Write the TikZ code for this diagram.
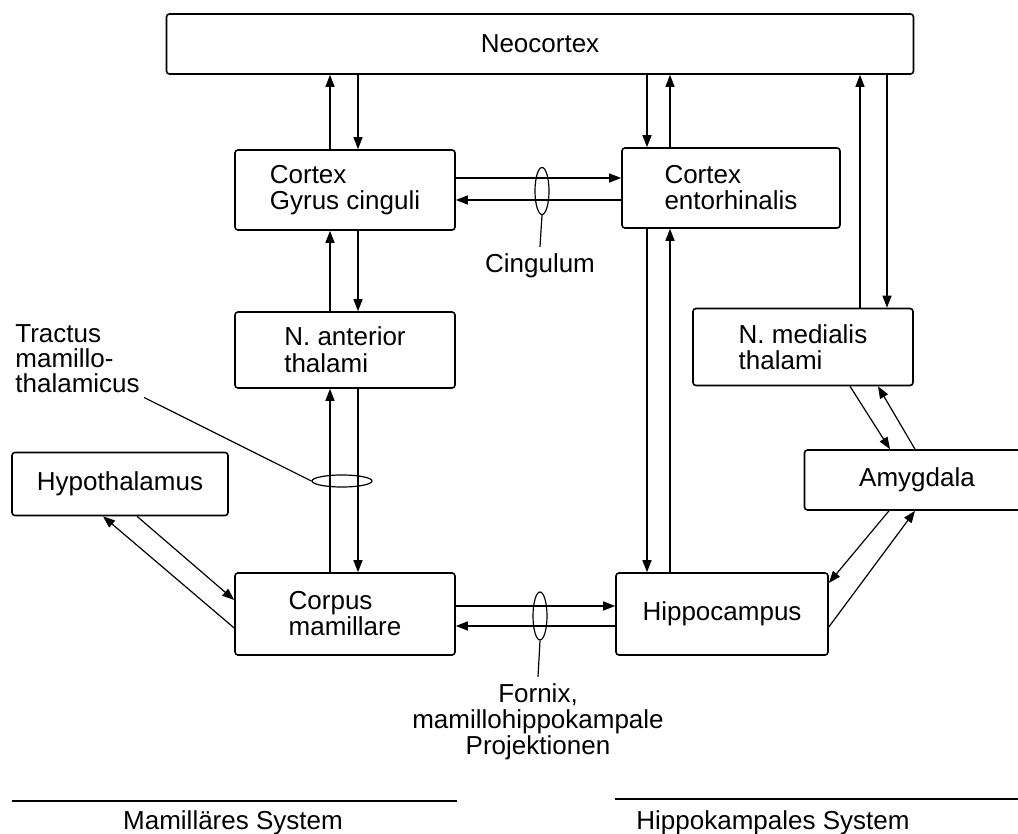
\documentclass[tikz,border=0pt]{standalone}
\usepackage{fontspec}
\setmainfont{Liberation Sans}
\usetikzlibrary{arrows.meta,shapes.geometric}

\tikzset{
  box/.style={draw,line width=0.8pt,rounded corners=1.5pt,align=left,minimum width=110pt,minimum height=40pt},
  arr/.style={-{Triangle[length=6pt,width=4.5pt]},line width=0.6pt},
  ring/.style={draw,ellipse,line width=0.6pt,inner sep=0pt},
}

\begin{document}
\begin{tikzpicture}[x=0.5pt,y=-0.5pt,font=\fontsize{13}{13}\selectfont]
  \useasboundingbox (0,0) rectangle (1018,834);
  % boxes
  \node[box,minimum width=373.5pt,minimum height=30pt] (neo) at (540,44) {Neocortex};
  \node[box] (gyrus) at (345,190) {Cortex\\Gyrus cinguli};
  \node[box,minimum width=109pt] (ento) at (731,188) {Cortex\\entorhinalis};
  \node[box,minimum height=38pt,font=\fontsize{13}{13.5}\selectfont] (ant) at (345,350) {N. anterior\\thalami};
  \node[box,minimum height=38.5pt] (med) at (803,347) {N. medialis\\thalami};
  \node[box,minimum width=108pt,minimum height=31.5pt] (hypo) at (120,484) {Hypothalamus};
  \node[box,minimum width=112.5pt,minimum height=30pt] (amy) at (917,480) {Amygdala};
  \node[box,minimum height=41pt] (corpus) at (345,614) {Corpus\\mamillare};
  \node[box,minimum width=106pt,minimum height=41pt] (hippo) at (722,614) {Hippocampus};

  % columns and rows of the parallel arrows
  \coordinate (ca) at (330,0); \coordinate (cb) at (358,0);
  \coordinate (ea) at (647,0); \coordinate (eb) at (670,0);
  \coordinate (ma) at (860,0); \coordinate (mb) at (887,0);
  \coordinate (ra) at (0,178); \coordinate (rb) at (0,200);
  \coordinate (fa) at (0,606); \coordinate (fb) at (0,626);

  \draw[arr] (gyrus.north -| ca) -- (neo.south -| ca);
  \draw[arr] (neo.south -| cb) -- (gyrus.north -| cb);
  \draw[arr] (neo.south -| ea) -- (ento.north -| ea);
  \draw[arr] (ento.north -| eb) -- (neo.south -| eb);
  \draw[arr] (med.north -| ma) -- (neo.south -| ma);
  \draw[arr] (neo.south -| mb) -- (med.north -| mb);

  \draw[arr] (gyrus.east |- ra) -- (ento.west |- ra);
  \draw[arr] (ento.west |- rb) -- (gyrus.east |- rb);

  \draw[arr] (ant.north -| ca) -- (gyrus.south -| ca);
  \draw[arr] (gyrus.south -| cb) -- (ant.north -| cb);
  \draw[arr] (corpus.north -| ca) -- (ant.south -| ca);
  \draw[arr] (ant.south -| cb) -- (corpus.north -| cb);

  \draw[arr] (ento.south -| ea) -- (hippo.north -| ea);
  \draw[arr] (hippo.north -| eb) -- (ento.south -| eb);

  \draw[arr] (corpus.east |- fa) -- (hippo.west |- fa);
  \draw[arr] (hippo.west |- fb) -- (corpus.east |- fb);

  % slanted pairs
  \draw[arr] ([xshift=8.5pt]hypo.south) -- ([yshift=7pt]corpus.west);
  \draw[arr] ([yshift=-7pt]corpus.west) -- ([xshift=-8.5pt]hypo.south);
  \draw[arr] ([xshift=23.5pt]med.south) -- ([xshift=-13.5pt]amy.north);
  \draw[arr] ([xshift=-1pt]amy.north) -- ([xshift=37.5pt]med.south);
  \draw[arr] ([xshift=-14pt]amy.south) -- ([yshift=15.5pt]hippo.east);
  \draw[arr] ([yshift=-6.5pt]hippo.east) -- ([xshift=-1pt]amy.south);

  % bundles
  \node[ring,minimum width=7pt,minimum height=23.5pt] (cing) at (542,191) {};
  \node[ring,minimum width=30pt,minimum height=6pt] (tract) at (342,481) {};
  \node[ring,minimum width=7pt,minimum height=24pt] (fornix) at (540,616) {};

  \node (cinglbl) at (540,266) {Cingulum};
  \draw[line width=0.6pt] (cing.south) -- (cinglbl.north);
  \node[align=left,anchor=west,inner sep=2pt,font=\fontsize{13}{12.5}\selectfont] (tractlbl) at (11,359) {Tractus\\mamillo-\\thalamicus};
  \draw[line width=0.6pt] (tractlbl.south east) -- (tract.west);
  \node[align=center] (fornlbl) at (538,722) {Fornix,\\mamillohippokampale\\Projektionen};
  \draw[line width=0.6pt] (fornix.south) -- (fornlbl.north);

  % systems
  \node (mamsys) at (233,823) {Mamilläres System};
  \node (hipsys) at (773,823) {Hippokampales System};
  \draw[line width=0.8pt] (12,801) -- (457,801);
  \draw[line width=0.8pt] (615,799) -- (1018,799);
\end{tikzpicture}
\end{document}
